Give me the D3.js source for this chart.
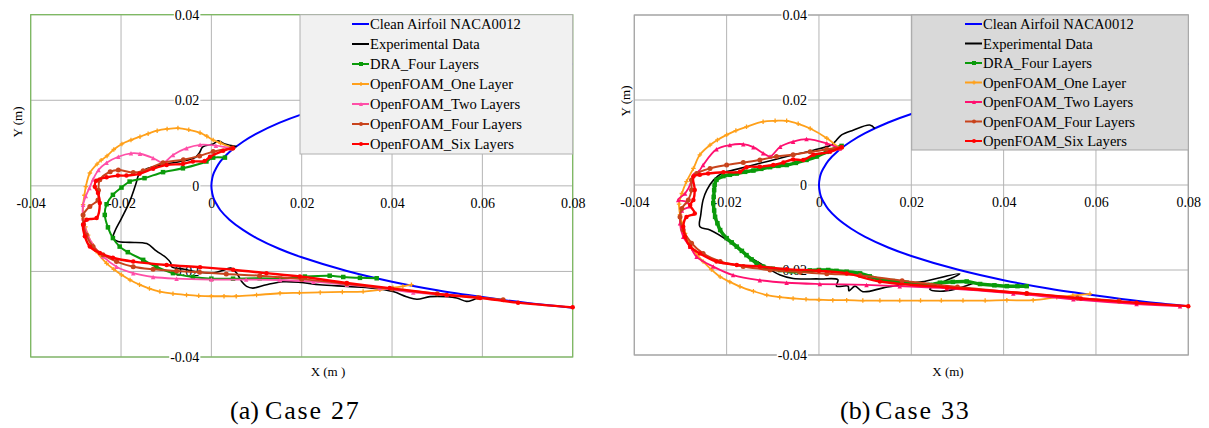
<!DOCTYPE html>
<html>
<head>
<meta charset="utf-8">
<script src="https://cdn.jsdelivr.net/npm/d3@7"></script>
<style>
body { margin: 0; background: #fff; }
svg { display: block; }
</style>
</head>
<body>
<div id="chart"></div>
<script>
// ---- data ----
var xTicks = [-0.04, -0.02, 0, 0.02, 0.04, 0.06, 0.08];
var yTicks = [-0.04, -0.02, 0, 0.02, 0.04];
var seriesNames = ["Clean Airfoil NACA0012", "Experimental Data", "DRA_Four Layers",
	"OpenFOAM_One Layer", "OpenFOAM_Two Layers", "OpenFOAM_Four Layers", "OpenFOAM_Six Layers"];
var captions = [["(a)", "Case 27"], ["(b)", "Case 33"]];

// clean NACA0012 contour (upper TE -> LE -> lower TE)
var airfoilX = [0.08, 0.07, 0.06, 0.05, 0.04, 0.03, 0.02, 0.015, 0.01, 0.007, 0.004, 0.002, 0.001, 0.0005, 0.0002, 0,
	0.0002, 0.0005, 0.001, 0.002, 0.004, 0.007, 0.01, 0.015, 0.02, 0.03, 0.04, 0.05, 0.06, 0.07, 0.08];
var airfoilY = [0.0285, 0.0274, 0.0260, 0.0244, 0.0224, 0.0199, 0.0167, 0.0147, 0.0122, 0.0103, 0.0079, 0.0057, 0.0040, 0.0029, 0.0018, 0,
	-0.0018, -0.0029, -0.0040, -0.0057, -0.0079, -0.0103, -0.0122, -0.0147, -0.0167, -0.0199, -0.0224, -0.0244, -0.0260, -0.0274, -0.0285];

// Case 27
var case27Exp = [[0.0056,0.0092],[0.0030,0.0098],[0.0015,0.0105],[0.0004,0.0098],[-0.0019,0.0091],[-0.0026,0.0078],[-0.0036,0.0066],
	[-0.0069,0.0057],[-0.0107,0.0050],[-0.0143,0.0040],[-0.0160,0.0027],[-0.0167,0.0005],[-0.0181,-0.0037],[-0.0199,-0.0076],
	[-0.0214,-0.0107],[-0.0218,-0.0122],[-0.0207,-0.0130],[-0.0181,-0.0132],[-0.0143,-0.0135],[-0.0122,-0.0152],[-0.0100,-0.0168],
	[-0.0090,-0.0180],[-0.0088,-0.0189],[-0.0060,-0.0195],[-0.0025,-0.0202],[0.0004,-0.0204],[0.0030,-0.0196],[0.0043,-0.0192],
	[0.0056,-0.0204],[0.0068,-0.0225],[0.0078,-0.0235],[0.0092,-0.0239],[0.0122,-0.0231],[0.0159,-0.0224],[0.0200,-0.0226],
	[0.0240,-0.0231],[0.0300,-0.0235],[0.0358,-0.0239],[0.0402,-0.0247],[0.0432,-0.0259],[0.0455,-0.0265],[0.0484,-0.0259],
	[0.0521,-0.0259],[0.0543,-0.0262],[0.0565,-0.0270],[0.0580,-0.0266],[0.0595,-0.0259]];
var case27Dra = [[0.0030,0.0066],[0.0004,0.0066],[-0.0011,0.0057],[-0.0063,0.0041],[-0.0107,0.0032],[-0.0148,0.0018],[-0.0181,0.0010],
	[-0.0199,-0.0004],[-0.0218,-0.0021],[-0.0232,-0.0043],[-0.0236,-0.0068],[-0.0229,-0.0097],[-0.0218,-0.0122],[-0.0203,-0.0142],
	[-0.0185,-0.0155],[-0.0151,-0.0173],[-0.0122,-0.0189],[-0.0085,-0.0204],[-0.0041,-0.0213],[0.0000,-0.0217],[0.0048,-0.0217],
	[0.0107,-0.0216],[0.0152,-0.0217],[0.0207,-0.0212],[0.0262,-0.0210],[0.0292,-0.0213],[0.0329,-0.0215],[0.0366,-0.0216]];
var case27One = [[0.0048,0.0089],[0.0020,0.0100],[0.0004,0.0107],[-0.0010,0.0116],[-0.0025,0.0124],[-0.0050,0.0131],[-0.0074,0.0135],
	[-0.0098,0.0133],[-0.0120,0.0129],[-0.0140,0.0122],[-0.0158,0.0115],[-0.0178,0.0107],[-0.0198,0.0098],[-0.0216,0.0085],
	[-0.0231,0.0070],[-0.0244,0.0060],[-0.0253,0.0051],[-0.0269,0.0030],[-0.0278,-0.0002],[-0.0281,-0.0022],[-0.0284,-0.0044],
	[-0.0283,-0.0076],[-0.0279,-0.0096],[-0.0273,-0.0115],[-0.0265,-0.0135],[-0.0255,-0.0153],[-0.0232,-0.0181],[-0.0216,-0.0195],
	[-0.0199,-0.0208],[-0.0180,-0.0220],[-0.0159,-0.0231],[-0.0137,-0.0240],[-0.0114,-0.0247],[-0.0085,-0.0252],[-0.0055,-0.0255],
	[-0.0028,-0.0257],[0.0000,-0.0258],[0.0028,-0.0258],[0.0055,-0.0258],[0.0100,-0.0255],[0.0152,-0.0251],[0.0195,-0.0250],
	[0.0241,-0.0249],[0.0290,-0.0248],[0.0336,-0.0247],[0.0373,-0.0243],[0.0402,-0.0238],[0.0424,-0.0235],[0.0443,-0.0231]];
var case27Two = [[0.0044,0.0088],[0.0010,0.0094],[-0.0025,0.0096],[-0.0055,0.0088],[-0.0085,0.0072],[-0.0107,0.0054],[-0.0129,0.0065],
	[-0.0158,0.0075],[-0.0178,0.0076],[-0.0206,0.0068],[-0.0232,0.0054],[-0.0250,0.0037],[-0.0262,0.0015],[-0.0270,-0.0005],
	[-0.0278,-0.0024],[-0.0284,-0.0044],[-0.0284,-0.0076],[-0.0277,-0.0107],[-0.0262,-0.0138],[-0.0240,-0.0165],[-0.0210,-0.0189],
	[-0.0173,-0.0204],[-0.0129,-0.0213],[-0.0077,-0.0217],[0.0000,-0.0219],[0.0077,-0.0219],[0.0152,-0.0220],[0.0226,-0.0224],
	[0.0300,-0.0231],[0.0373,-0.0239],[0.0447,-0.0249],[0.0521,-0.0255],[0.0595,-0.0260]];
var case27Four = [[0.0045,0.0088],[0.0004,0.0080],[-0.0026,0.0070],[-0.0062,0.0061],[-0.0107,0.0054],[-0.0151,0.0035],[-0.0173,0.0031],
	[-0.0206,0.0037],[-0.0224,0.0033],[-0.0247,0.0014],[-0.0250,-0.0010],[-0.0251,-0.0033],[-0.0269,-0.0048],[-0.0284,-0.0068],
	[-0.0283,-0.0090],[-0.0277,-0.0115],[-0.0262,-0.0142],[-0.0240,-0.0161],[-0.0210,-0.0177],[-0.0173,-0.0189],[-0.0129,-0.0195],
	[-0.0077,-0.0199],[-0.0026,-0.0202],[0.0033,-0.0206],[0.0107,-0.0210],[0.0200,-0.0218],[0.0300,-0.0229],[0.0400,-0.0241],
	[0.0500,-0.0252],[0.0590,-0.0261],[0.0646,-0.0266]];
var case27Six = [[0.0048,0.0088],[0.0026,0.0082],[-0.0003,0.0068],[-0.0015,0.0058],[-0.0041,0.0057],[-0.0063,0.0051],[-0.0099,0.0049],
	[-0.0129,0.0040],[-0.0159,0.0028],[-0.0188,0.0024],[-0.0207,0.0024],[-0.0232,0.0020],[-0.0255,0.0012],[-0.0258,-0.0002],
	[-0.0251,-0.0017],[-0.0247,-0.0040],[-0.0254,-0.0075],[-0.0276,-0.0079],[-0.0284,-0.0091],[-0.0280,-0.0118],[-0.0269,-0.0142],
	[-0.0247,-0.0157],[-0.0218,-0.0168],[-0.0173,-0.0177],[-0.0099,-0.0185],[-0.0025,-0.0190],[0.0048,-0.0196],[0.0122,-0.0204],
	[0.0196,-0.0212],[0.0300,-0.0227],[0.0395,-0.0239],[0.0521,-0.0255],[0.0595,-0.0262],[0.0679,-0.0273],[0.0800,-0.0284]];

// Case 33
var case33Exp = [[0.0121,0.0133],[0.0110,0.0141],[0.0074,0.0129],[0.0049,0.0118],[0.0035,0.0102],[0.0027,0.0094],[-0.0012,0.0082],
	[-0.0070,0.0067],[-0.0128,0.0051],[-0.0186,0.0035],[-0.0208,0.0029],[-0.0228,0.0012],[-0.0243,-0.0012],[-0.0251,-0.0035],
	[-0.0256,-0.0070],[-0.0258,-0.0098],[-0.0236,-0.0106],[-0.0200,-0.0129],[-0.0157,-0.0165],[-0.0128,-0.0184],[-0.0084,-0.0212],
	[-0.0056,-0.0220],[0.0002,-0.0221],[0.0041,-0.0223],[0.0038,-0.0238],[0.0063,-0.0238],[0.0065,-0.0249],[0.0078,-0.0238],
	[0.0095,-0.0251],[0.0139,-0.0242],[0.0175,-0.0235],[0.0222,-0.0228],[0.0305,-0.0209],[0.0240,-0.0245],[0.0262,-0.0250],
	[0.0295,-0.0245],[0.0334,-0.0231]];
var case33Dra = [[0.0049,0.0092],[0.0017,0.0078],[-0.0005,0.0067],[-0.0027,0.0059],[-0.0050,0.0052],[-0.0070,0.0047],[-0.0088,0.0045],
	[-0.0106,0.0042],[-0.0125,0.0038],[-0.0142,0.0034],[-0.0160,0.0031],[-0.0178,0.0027],[-0.0193,0.0024],[-0.0207,0.0021],
	[-0.0222,0.0012],[-0.0226,0.0000],[-0.0227,-0.0012],[-0.0228,-0.0028],[-0.0229,-0.0043],[-0.0227,-0.0060],[-0.0225,-0.0075],
	[-0.0220,-0.0090],[-0.0214,-0.0106],[-0.0200,-0.0125],[-0.0189,-0.0135],[-0.0178,-0.0145],[-0.0167,-0.0155],[-0.0157,-0.0165],
	[-0.0146,-0.0175],[-0.0135,-0.0184],[-0.0121,-0.0192],[-0.0100,-0.0197],[-0.0084,-0.0200],[-0.0060,-0.0203],[-0.0041,-0.0204],
	[-0.0020,-0.0201],[0.0000,-0.0200],[0.0020,-0.0200],[0.0038,-0.0202],[0.0060,-0.0204],[0.0089,-0.0208],[0.0110,-0.0215],
	[0.0132,-0.0222],[0.0160,-0.0226],[0.0190,-0.0230],[0.0215,-0.0233],[0.0240,-0.0235],[0.0262,-0.0230],[0.0290,-0.0228],
	[0.0320,-0.0227],[0.0349,-0.0233],[0.0380,-0.0236],[0.0407,-0.0238],[0.0430,-0.0238],[0.0450,-0.0238]];
var case33One = [[0.0045,0.0086],[0.0017,0.0110],[-0.0019,0.0133],[-0.0045,0.0144],[-0.0070,0.0151],[-0.0095,0.0151],[-0.0121,0.0149],
	[-0.0157,0.0137],[-0.0180,0.0128],[-0.0200,0.0118],[-0.0220,0.0106],[-0.0236,0.0094],[-0.0258,0.0071],[-0.0272,0.0039],
	[-0.0287,0.0008],[-0.0297,-0.0020],[-0.0303,-0.0045],[-0.0301,-0.0070],[-0.0296,-0.0092],[-0.0290,-0.0114],[-0.0272,-0.0153],
	[-0.0251,-0.0180],[-0.0233,-0.0199],[-0.0214,-0.0216],[-0.0193,-0.0228],[-0.0171,-0.0239],[-0.0142,-0.0250],[-0.0113,-0.0259],
	[-0.0085,-0.0264],[-0.0056,-0.0267],[-0.0028,-0.0269],[0.0000,-0.0270],[0.0030,-0.0271],[0.0060,-0.0271],[0.0095,-0.0272],
	[0.0132,-0.0272],[0.0175,-0.0272],[0.0220,-0.0272],[0.0265,-0.0272],[0.0312,-0.0272],[0.0360,-0.0272],[0.0407,-0.0271],
	[0.0464,-0.0271],[0.0515,-0.0264],[0.0550,-0.0260],[0.0587,-0.0256]];
var case33Two = [[0.0045,0.0086],[0.0017,0.0098],[-0.0027,0.0108],[-0.0056,0.0102],[-0.0084,0.0090],[-0.0106,0.0067],[-0.0121,0.0075],
	[-0.0142,0.0089],[-0.0164,0.0096],[-0.0193,0.0094],[-0.0222,0.0084],[-0.0251,0.0047],[-0.0261,0.0031],[-0.0272,0.0024],
	[-0.0276,0.0008],[-0.0290,-0.0020],[-0.0305,-0.0035],[-0.0285,-0.0040],[-0.0280,-0.0050],[-0.0297,-0.0060],[-0.0301,-0.0090],
	[-0.0294,-0.0122],[-0.0279,-0.0145],[-0.0265,-0.0169],[-0.0229,-0.0192],[-0.0186,-0.0212],[-0.0128,-0.0224],[-0.0070,-0.0230],
	[0.0002,-0.0233],[0.0103,-0.0235],[0.0175,-0.0238],[0.0277,-0.0243],[0.0421,-0.0255],[0.0551,-0.0269],[0.0688,-0.0280],
	[0.0782,-0.0285]];
var case33Four = [[0.0049,0.0089],[0.0017,0.0084],[-0.0019,0.0078],[-0.0056,0.0071],[-0.0092,0.0067],[-0.0128,0.0059],[-0.0164,0.0053],
	[-0.0200,0.0047],[-0.0236,0.0039],[-0.0265,0.0027],[-0.0276,0.0012],[-0.0276,-0.0012],[-0.0283,-0.0035],[-0.0297,-0.0055],
	[-0.0301,-0.0075],[-0.0294,-0.0106],[-0.0276,-0.0137],[-0.0251,-0.0161],[-0.0214,-0.0180],[-0.0164,-0.0192],[-0.0106,-0.0200],
	[-0.0041,-0.0205],[0.0017,-0.0209],[0.0089,-0.0213],[0.0180,-0.0225],[0.0300,-0.0240],[0.0450,-0.0255],[0.0560,-0.0266],
	[0.0650,-0.0273]];
var case33Six = [[0.0049,0.0089],[0.0024,0.0078],[-0.0012,0.0071],[-0.0034,0.0059],[-0.0056,0.0060],[-0.0077,0.0053],[-0.0099,0.0047],
	[-0.0128,0.0043],[-0.0157,0.0042],[-0.0171,0.0031],[-0.0207,0.0030],[-0.0240,0.0027],[-0.0258,0.0024],[-0.0272,0.0020],
	[-0.0269,-0.0012],[-0.0272,-0.0035],[-0.0279,-0.0047],[-0.0269,-0.0067],[-0.0287,-0.0075],[-0.0294,-0.0098],[-0.0290,-0.0122],
	[-0.0279,-0.0145],[-0.0258,-0.0161],[-0.0222,-0.0180],[-0.0178,-0.0188],[-0.0128,-0.0192],[-0.0070,-0.0198],[0.0000,-0.0202],
	[0.0060,-0.0208],[0.0132,-0.0227],[0.0277,-0.0241],[0.0450,-0.0255],[0.0567,-0.0267],[0.0688,-0.0277],[0.0800,-0.0285]];

// ---- styles ----
var serif = "'Liberation Serif', 'Times New Roman', serif";
var gridColor = "#b4b4b4";

var panels = [
	{
		left: 30.7, right: 572.7, top: 14.7, bottom: 357,
		border: "#79b95b",
		legend: {x0: 300, y0: 14.7, x1: 572.7, y1: 154, fill: "#f1f1f1", stroke: "#b0b0b0", lineX: 352, textX: 370, rowY: 24, rowStep: 20},
		pink: "#ff4fa8",
		series: [case27Exp, case27Dra, case27One, case27Two, case27Four, case27Six],
		draWidth: 2,
		xTitle: "X (m )", xTitleX: 328, yTitleX: 22, yTitleY: 122,
		capX: 230, capTextX: 265
	},
	{
		left: 634.3, right: 1188.3, top: 15, bottom: 355,
		border: "#a6a6a6",
		legend: {x0: 911.7, y0: 15, x1: 1188.3, y1: 150, fill: "#d9d9d9", stroke: "#a6a6a6", lineX: 965, textX: 983, rowY: 24, rowStep: 19.5},
		pink: "#ff1070",
		series: [case33Exp, case33Dra, case33One, case33Two, case33Four, case33Six],
		draWidth: 3.5,
		xTitle: "X (m)", xTitleX: 948, yTitleX: 630, yTitleY: 101,
		capX: 840, capTextX: 875
	}
];

var width = 1209;
var height = 428;

var svg = d3.select("#chart").append("svg")
	.attr("width", width)
	.attr("height", height);

function fmt(d) {
	return d === 0 ? "0" : d.toFixed(2);
}

// draw one marker of a given shape into a group
function marker(sel, shape, color, s) {
	if (shape === "square") {
		sel.append("rect").attr("x", -s / 2).attr("y", -s / 2).attr("width", s).attr("height", s).attr("fill", color);
	} else if (shape === "plus") {
		sel.append("path").attr("d", `M${-s / 2},0H${s / 2}M0,${-s / 2}V${s / 2}`).attr("stroke", color).attr("stroke-width", 1.3);
	} else if (shape === "tri") {
		sel.append("path").attr("d", `M0,${-s / 2}L${s / 2},${s / 2}L${-s / 2},${s / 2}Z`).attr("fill", color);
	} else if (shape === "circle") {
		sel.append("circle").attr("r", s / 2).attr("fill", color);
	}
}

function drawPanel(p, pi) {
	var x = d3.scaleLinear().domain([-0.04, 0.08]).range([p.left, p.right]);
	var y = d3.scaleLinear().domain([-0.04, 0.04]).range([p.bottom, p.top]);

	var styles = [
		{color: "#0000ff", width: 2, shape: null},
		{color: "#000000", width: 1.6, shape: null},
		{color: "#0a9a0a", width: p.draWidth, shape: "square", size: 4.5},
		{color: "#ffa01a", width: 1.8, shape: "plus", size: 4.5},
		{color: p.pink, width: 1.8, shape: "tri", size: 4.5},
		{color: "#c8431c", width: 2, shape: "circle", size: 5},
		{color: "#ff0000", width: 2.4, shape: "circle", size: 4.5}
	];

	var g = svg.append("g");

	// grid
	g.selectAll(".vgrid").data(xTicks).enter().append("line")
		.attr("x1", d => x(d)).attr("x2", d => x(d))
		.attr("y1", p.top).attr("y2", p.bottom)
		.attr("stroke", gridColor).attr("stroke-width", 1);
	g.selectAll(".hgrid").data(yTicks).enter().append("line")
		.attr("x1", p.left).attr("x2", p.right)
		.attr("y1", d => y(d)).attr("y2", d => y(d))
		.attr("stroke", gridColor).attr("stroke-width", 1);

	g.append("rect")
		.attr("x", p.left).attr("y", p.top)
		.attr("width", p.right - p.left).attr("height", p.bottom - p.top)
		.attr("fill", "none").attr("stroke", p.border).attr("stroke-width", 1.2);

	// tick labels sit on the axes crossing at zero
	var yAxis = d3.axisLeft(y).tickValues(yTicks).tickSize(0).tickPadding(12).tickFormat(fmt);
	var ya = g.append("g")
		.attr("transform", `translate(${x(0)},0)`)
		.call(yAxis)
		.attr("font-family", serif).attr("font-size", 14);
	ya.select(".domain").remove();
	ya.selectAll(".tick").each(function() {
		var t = d3.select(this).select("text").attr("fill", "#000");
		var b = t.node().getBBox();
		d3.select(this).insert("rect", "text")
			.attr("x", b.x - 1).attr("y", b.y + 2).attr("width", b.width + 2).attr("height", b.height - 4)
			.attr("fill", "#fff");
	});

	var xAxis = d3.axisBottom(x).tickValues(xTicks).tickSize(0).tickPadding(12).tickFormat(fmt);
	var xa = g.append("g")
		.attr("transform", `translate(0,${y(0)})`)
		.call(xAxis)
		.attr("font-family", serif).attr("font-size", 14);
	xa.select(".domain").remove();
	xa.selectAll("text").attr("fill", "#000");

	// curves
	var line = d3.line()
		.x(d => x(d[0]))
		.y(d => y(d[1]))
		.curve(d3.curveCatmullRom.alpha(0.5));

	var all = [d3.zip(airfoilX, airfoilY)].concat(p.series);

	all.forEach(function(pts, i) {
		var st = styles[i];
		g.append("path")
			.attr("d", line(pts))
			.attr("fill", "none")
			.attr("stroke", st.color)
			.attr("stroke-width", st.width)
			.attr("stroke-linejoin", "round");
		if (st.shape) {
			g.append("g").selectAll("g").data(pts).enter().append("g")
				.attr("transform", d => `translate(${x(d[0])},${y(d[1])})`)
				.each(function() { marker(d3.select(this), st.shape, st.color, st.size); });
		}
	});

	// legend
	var L = p.legend;
	var lg = g.append("g");
	lg.append("rect")
		.attr("x", L.x0).attr("y", L.y0)
		.attr("width", L.x1 - L.x0).attr("height", L.y1 - L.y0)
		.attr("fill", L.fill).attr("stroke", L.stroke).attr("stroke-width", 1);
	seriesNames.forEach(function(name, i) {
		var st = styles[i];
		var cy = L.rowY + i * L.rowStep;
		lg.append("line")
			.attr("x1", L.lineX).attr("x2", L.textX - 1)
			.attr("y1", cy).attr("y2", cy)
			.attr("stroke", st.color).attr("stroke-width", 2);
		if (st.shape) {
			var mg = lg.append("g").attr("transform", `translate(${(L.lineX + L.textX) / 2},${cy})`);
			marker(mg, st.shape, st.color, 4);
		}
		lg.append("text")
			.attr("x", L.textX).attr("y", cy + 5)
			.attr("font-family", serif).attr("font-size", 14.6)
			.attr("fill", "#000")
			.text(name);
	});

	// axis titles
	g.append("text")
		.attr("x", p.xTitleX).attr("y", 376)
		.attr("text-anchor", "middle")
		.attr("font-family", serif).attr("font-size", 13)
		.text(p.xTitle);
	g.append("text")
		.attr("transform", `translate(${p.yTitleX},${p.yTitleY}) rotate(-90)`)
		.attr("text-anchor", "middle")
		.attr("font-family", serif).attr("font-size", 13)
		.text("Y (m)");

	// caption
	g.append("text")
		.attr("x", p.capX).attr("y", 419)
		.attr("font-family", serif).attr("font-size", 26)
		.text(captions[pi][0]);
	g.append("text")
		.attr("x", p.capTextX).attr("y", 419)
		.attr("font-family", serif).attr("font-size", 26)
		.attr("letter-spacing", 1.8)
		.text(captions[pi][1]);
}

panels.forEach(drawPanel);
</script>
</body>
</html>
